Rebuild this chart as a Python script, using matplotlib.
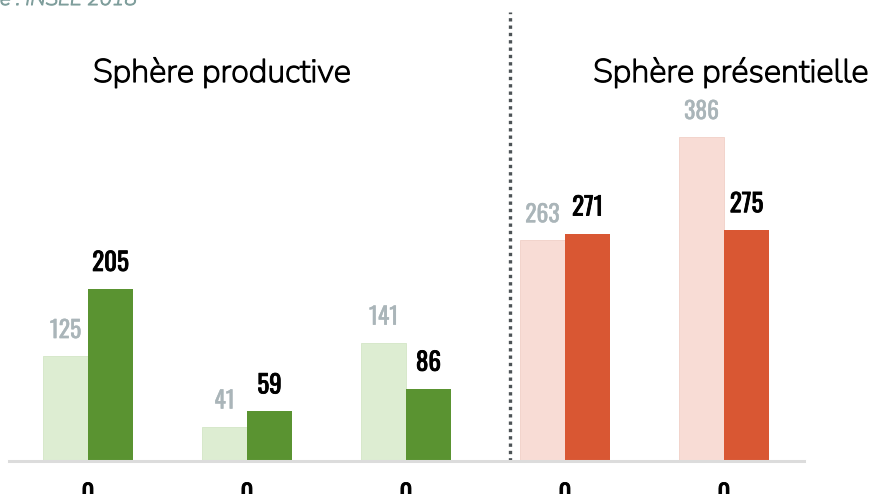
import matplotlib
matplotlib.use("Agg")
import matplotlib.pyplot as plt
import matplotlib.patheffects as pe
import numpy as np

# emplois par secteur, deux dates (clair = avant, foncé = après)
categories = ["0", "0", "0", "0", "0"]
avant = [125, 41, 141, 263, 386]
apres = [205, 59, 86, 271, 275]
sphere = ["prod", "prod", "prod", "pres", "pres"]

colors_light = {"prod": "#ddedd2", "pres": "#f8dcd5"}
edge_light = {"prod": "#d3e6c6", "pres": "#f1d0c7"}
colors_dark = {"prod": "#5a9331", "pres": "#d95733"}

num_font = ["Oswald", "Liberation Sans", "DejaVu Sans"]
title_font = ["Nunito Sans", "Lato", "DejaVu Sans"]


def thick(width, color):
    # épaissit le trait des polices qui n'ont qu'une graisse
    return [pe.withStroke(linewidth=width, foreground=color)]


W, H = 871, 494
fig = plt.figure(figsize=(W / 100, H / 100), dpi=100)
base_px = 461
ax = fig.add_axes([0, (H - base_px) / H, 1, base_px / H])

x = np.arange(len(categories))
w = 45 / 159
px_per_unit = 0.839

for i in range(len(x)):
    ax.bar(x[i] - w / 2, avant[i], w, color=colors_light[sphere[i]],
           edgecolor=edge_light[sphere[i]], linewidth=0.6)
    ax.bar(x[i] + w / 2, apres[i], w, color=colors_dark[sphere[i]], linewidth=0)
    ax.annotate(str(avant[i]), (x[i] - w / 2, avant[i]), xytext=(0, 13), textcoords="offset points",
                ha="center", va="baseline", fontsize=17, color="#aab5b9", family=num_font,
                path_effects=thick(0.3, "#aab5b9"))
    ax.annotate(str(apres[i]), (x[i] + w / 2, apres[i]), xytext=(0, 13), textcoords="offset points",
                ha="center", va="baseline", fontsize=18, color="black", family=num_font,
                path_effects=thick(0.6, "black"))

ax.set_xlim(-88 / 159, (W - 88) / 159)
ax.set_ylim(0, base_px / px_per_unit)

for s in ["top", "left", "right"]:
    ax.spines[s].set_visible(False)
ax.spines["bottom"].set_color("#dcdcdc")
ax.spines["bottom"].set_linewidth(2.2)
ax.spines["bottom"].set_bounds(-0.5, 4.5)
ax.set_yticks([])
ax.set_xticks(x)
ax.set_xticklabels(categories, fontsize=18, family=num_font)
for lab in ax.get_xticklabels():
    lab.set_path_effects(thick(0.6, "black"))
ax.tick_params(axis="x", length=0, pad=15)

# séparation entre les deux sphères
xs = (510 - 88) / 159
ax.plot([xs, xs], [0, (base_px - 12) / px_per_unit], color="#4d5356", lw=2.4,
        linestyle=(0, (1, 1.2)), clip_on=False)

fig.text(222 / W, 1 - 82 / H, "Sphère productive", ha="center", va="baseline",
         fontsize=23.5, family=title_font, color="black", path_effects=thick(0.9, "black"))
fig.text(731 / W, 1 - 82 / H, "Sphère présentielle", ha="center", va="baseline",
         fontsize=23.5, family=title_font, color="black", path_effects=thick(0.9, "black"))
fig.text(137 / W, 1 - 5 / H, "Source : INSEE 2018", ha="right", va="baseline",
         fontsize=15, style="italic", color="#7f9e9c", family=title_font,
         path_effects=thick(0.8, "#7f9e9c"))

fig.savefig("out.png", dpi=100)
